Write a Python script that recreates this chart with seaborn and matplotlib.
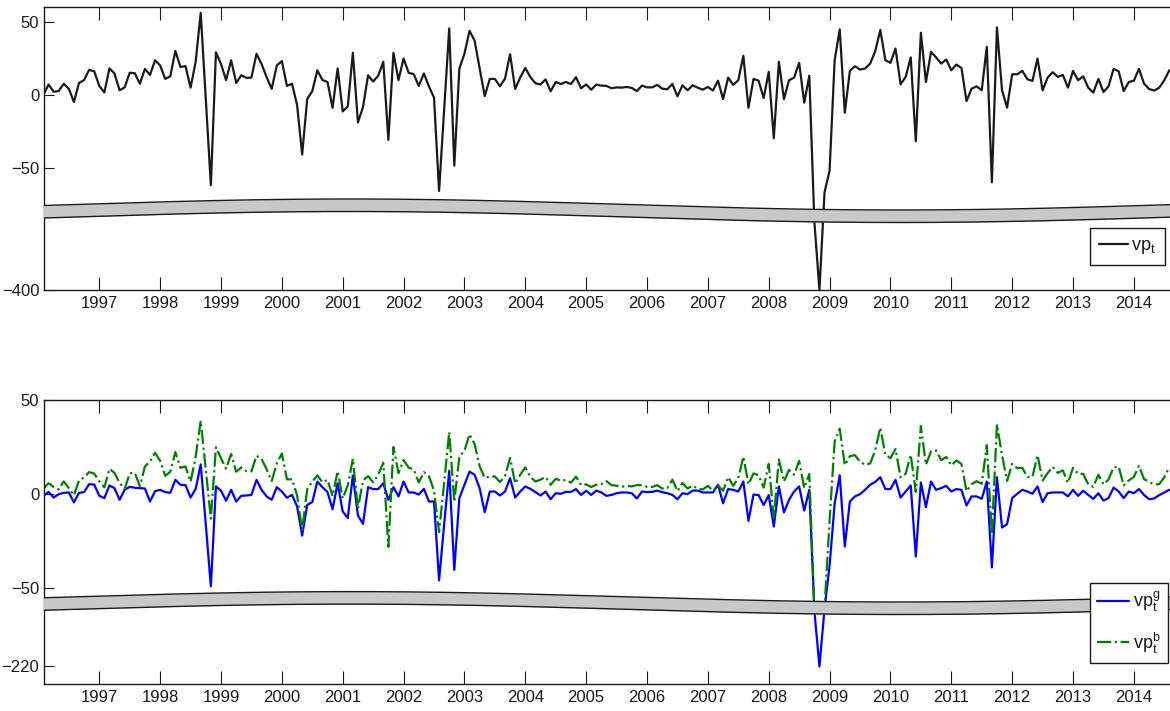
import numpy as np
import matplotlib
matplotlib.use("Agg")
import matplotlib.pyplot as plt
import seaborn as sns
from matplotlib.lines import Line2D
from matplotlib.ticker import NullLocator

# ---------------- data (monthly, Feb 1996 .. Aug 2014) ----------------
vp = [0, 7, 2, 2.5, 7.5, 4, -5, 8, 10, 17,
      16, 6, 1.5, 18, 14.5, 3, 5, 15, 14.7, 7.5,
      17.7, 13.5, 23.6, 20, 10.8, 12.6, 30, 19, 19.5, 4.8,
      22.5, 56, -3, -62, 29, 21, 10, 23.6, 8, 13.3,
      11.5, 11.7, 28, 21, 12, 4, 20, 23, 6, 7.5,
      -7, -41, -3, 2.5, 16.7, 10, 8.7, -9, 18, -11.5,
      -8, 28.7, -19, -8.5, 13.3, 9, 13, 22.5, -31, 28.7,
      10, 24.8, 15, 14, 6, 14.5, 5.7, -2, -66, -10,
      45.4, -48.6, 17.9, 28, 43.8, 37, 18, -1, 10.8, 10.8,
      5.7, 11, 27.7, 3.9, 11.7, 18.3, 12, 7.8, 7, 10.5,
      2.3, 8.7, 7.3, 8.7, 7.3, 12, 4.4, 7, 3.4, 6.9,
      6.2, 6, 4.4, 5, 4.8, 5.3, 4.6, 2.5, 6.2, 5,
      5, 6.7, 4.1, 3.7, 7.3, -1.1, 6.4, 3, 6.4, 4.8,
      3.4, 5.3, 2.8, 9.6, -3, 11.7, 6.7, 9.9, 26.6, -9,
      10.8, 9.6, -2.3, 15.6, -29.8, 22.5, -3, 9.9, 11.7, 21.8,
      -5.5, 13, -130, -400, -67, -52, 23.6, 44.7, -12.4, 16.3,
      19.5, 17.2, 17.9, 21.3, 29.8, 44.3, 23.6, 21.8, 31.6, 7.1,
      12.2, 25.5, -31.9, 42.4, 8.7, 29.4, 25.5, 21.3, 24.1, 16.7,
      20.6, 18.3, -4.4, 4.1, 5.7, 3, 32.8, -60, 46.1, 3,
      -8.9, 14, 14, 16.3, 10.6, 9.4, 24.8, 3, 11.7, 15.4,
      12.2, 13.5, 4.8, 16.3, 9.9, 12.6, 4.8, 1.4, 10.8, 1.8,
      5.7, 17.7, 16, 2.5, 8.7, 9.6, 17.7, 7.6, 3.9, 2.8,
      4.8, 9.9, 16.7]

vpg = [-0.9, 1.2, -1.8, 0, 0.7, 0.9, -4.4, 0.7, 1.1, 5.3,
       5.1, -0.9, -2.1, 4.6, 3.2, -3, 2.3, 3.9, 3.4, 3.2,
       3, -3.9, 1.6, 2.3, 1.1, 0.7, 7.6, 5, 4.8, -1.8,
       2.8, 15.8, -16, -49, 4.1, 1.9, -3.5, 2.3, -3.9, -0.9,
       -0.7, -0.4, 7.6, 2.3, -1.2, -3, 3.7, 1.4, -1.9, -0.4,
       -6.5, -22, -5.7, -4.2, 6.7, 3.7, 1.1, -8, 5.8, -9.2,
       -12.7, 9.9, -11.3, -15.8, 3.7, 2.7, 2.7, 5.8, -3, 3.7,
       -1.2, 6.7, 0.9, 0.9, -0.2, 2.8, -3.9, -3.9, -45.8, -16,
       12.4, -40.2, -2.1, 5, 12, 10.3, 3.2, -9.6, 1.4, 1.4,
       -0.7, 1.4, 8.5, -1.8, 1.4, 4.1, 2.8, 1.1, -0.7, 1.4,
       -2.7, 0.5, 0.2, 1.2, 1.2, 2.7, -0.4, 1.8, -0.4, 1.9,
       0.9, -0.9, -0.4, 0.5, 0.9, 0.9, 0.5, -2.3, 1.4, 1.1,
       1.2, 1.9, 1.1, 0.5, -0.4, -2.7, 0.5, 0, 1.9, 1.9,
       0.9, 0.9, 0.9, 5, -4.8, 2.7, 2.3, 1.4, 6.7, -14.2,
       -0.2, -0.5, -5.8, -0.5, -17.2, 4.1, -9.7, -3, 1.4, 4.1,
       -8.7, 2.3, -70, -221, -65, -38, -5, 10, -27.8, -3.9,
       -1.2, 0, 2.3, 5, 6.5, 9, 2.7, 2.7, 7.6, -1.8,
       1.4, 4.6, -33.1, 6.2, -6.9, 6.7, 2.3, 3.2, 4.4, 1.4,
       2.7, 2.3, -6, -1.2, -1.2, -2.5, 6.7, -38.9, 9, -17.7,
       -15.9, -2.1, 0.2, 2.3, 1.4, 0.2, 4.1, -4.2, 0.5, 0.9,
       0.9, 0.9, -1.2, 2.3, -0.9, 1.8, -0.4, -2.5, 0.5, -3.4,
       -2.1, 3.5, 1.4, -2.1, 1.4, 0.5, 2.7, -0.4, -2.7, -2.3,
       -0.5, 0.9, 2.3]

vpb = [3, 5.8, 3.8, 2.5, 6.8, 3.1, -0.6, 7.3, 8.9, 11.7,
       10.9, 6.9, 3.6, 13.4, 11.3, 6, 2.7, 11.1, 11.3, 4.3,
       14.7, 17.4, 22, 17.7, 9.7, 11.9, 22.4, 14, 14.7, 6.6,
       19.7, 39, 13, -13, 24.9, 19.1, 13.5, 21.3, 11.9, 14.2,
       12.2, 12.1, 20.4, 18.7, 13.2, 7, 16.3, 21.6, 7.9, 7.9,
       -0.5, -19, 2.7, 6.7, 10, 6.3, 7.6, -1, 12.2, -2.3,
       4.7, 18.8, -7.7, 7.3, 9.6, 6.3, 10.3, 16.7, -28, 25,
       11.2, 18.1, 14.1, 13.1, 6.2, 11.7, 9.6, 1.9, -20.2, 6,
       33, -4, 20, 23, 31.8, 26.7, 14.8, 8.6, 9.4, 9.4,
       6.4, 9.6, 19.2, 5.7, 10.3, 14.2, 9.2, 6.7, 7.7, 9.1,
       5, 8.2, 7.1, 7.5, 6.1, 9.3, 4.8, 5.2, 3.8, 5,
       5.3, 6.9, 4.8, 4.5, 3.9, 4.4, 4.1, 4.8, 4.8, 3.9,
       3.8, 4.8, 3, 3.2, 7.7, 1.6, 5.9, 3, 4.5, 2.9,
       2.5, 4.4, 1.9, 4.6, 1.8, 9, 4.4, 8.5, 19.9, 5.2,
       11, 10.1, 3.5, 16.1, -12.6, 18.4, 6.7, 12.9, 10.3, 17.7,
       3.2, 10.7, -65, -65, -62, -14, 28, 34.7, 15.4, 20.2,
       20.7, 17.2, 15.6, 16.3, 23.3, 35.3, 20.9, 19.1, 24, 8.9,
       10.8, 20.9, 1.2, 36.2, 15.6, 22.7, 23.2, 18.1, 19.7, 15.3,
       17.9, 16, 1.6, 5.3, 6.9, 5.5, 26.1, -21.1, 37.1, 20.7,
       7, 16.1, 13.8, 14, 9.2, 9.2, 20.7, 7.2, 11.2, 14.5,
       11.3, 12.6, 6, 14, 10.8, 10.8, 5.2, 3.9, 10.3, 5.2,
       7.8, 14.2, 14.6, 4.6, 7.3, 9.1, 15, 8, 6.6, 5.1,
       5.3, 9, 14.4]

dates = 1996 + np.arange(1, len(vp) + 1) / 12.0

years = list(range(1997, 2015))
top_yticks = [-400, -50, 0, 50]
bot_yticks = [-220, -50, 0, 50]
label_top = r"$\mathregular{vp_t}$"
label_g = r"$\mathregular{vp_t^g}$"
label_b = r"$\mathregular{vp_t^b}$"

# ---------------- style ----------------
sns.set_theme(style="white")
plt.rcParams["font.family"] = ["Liberation Sans", "DejaVu Sans"]
plt.rcParams["mathtext.fontset"] = "custom"
plt.rcParams["mathtext.rm"] = "Liberation Sans"
plt.rcParams["axes.unicode_minus"] = True
plt.rcParams["text.color"] = "k"

W, H = 1170, 711
fig = plt.figure(figsize=(W / 100, H / 100), dpi=100)
fig.patch.set_facecolor("white")

def px_axes(left, top, right, bottom):
    return fig.add_axes([left / W, 1 - bottom / H, (right - left) / W, (bottom - top) / H])

ax1 = px_axes(43.5, 6.5, 1171, 290)
ax2 = px_axes(43.5, 400, 1171, 684)


def broken_scale(B, c):
    def fwd(v):
        v = np.asarray(v, dtype=float)
        return np.where(v >= B, v, B + (v - B) * c)

    def inv(d):
        d = np.asarray(d, dtype=float)
        return np.where(d >= B, d, B + (d - B) / c)

    return fwd, inv


def draw_break(ax, center, amp, thick):
    xf = np.linspace(0, 1, 400)
    top = center + amp * np.cos(2 * np.pi * (xf - 0.272) / 0.9756)
    bot = top - thick
    ax.fill_between(xf, bot, top, transform=ax.transAxes, color="#c8c8c8",
                    lw=0, zorder=4)
    ax.plot(xf, top, transform=ax.transAxes, color="k", lw=1.0, zorder=4.5)
    ax.plot(xf, bot, transform=ax.transAxes, color="k", lw=1.0, zorder=4.5)


def style_axes(ax, yticks):
    ax.set_xlim(dates[0], 2014.61)
    ax.set_xticks(years)
    ax.set_xticklabels([str(y) for y in years])
    ax.set_yticks(yticks)
    ax.set_yticklabels([str(t).replace("-", "\u2212") for t in yticks])
    ax.yaxis.set_minor_locator(NullLocator())
    ax.xaxis.set_minor_locator(NullLocator())
    ax.tick_params(axis="x", direction="in", top=True, bottom=True, length=9.5,
                   width=0.8, color="k", labelcolor="k", labelsize=12, pad=4)
    ax.tick_params(axis="y", direction="in", left=True, right=False, length=7.5,
                   width=0.8, color="k", labelcolor="k", labelsize=12, pad=3)
    for s in ax.spines.values():
        s.set_color("k")
        s.set_linewidth(1.0)
    ax.set_xlabel("")
    ax.set_ylabel("")
    ax.grid(False)


# ---------------- top panel ----------------
sns.lineplot(x=dates, y=vp, ax=ax1, color="k", lw=1.6, estimator=None, sort=False)
ax1.set_yscale("function", functions=broken_scale(-78, 0.1733))
ax1.set_ylim(-400, 60.4)
style_axes(ax1, top_yticks)
draw_break(ax1, 0.3016, 0.0194, 0.0441)
leg1 = ax1.legend([Line2D([], [], color="k", lw=1.6)], [label_top],
                  loc="lower right", bbox_to_anchor=(0.9947, 0.088),
                  frameon=True, fancybox=False, edgecolor="k", framealpha=1,
                  fontsize=13, handlelength=1.6, handletextpad=0.2,
                  borderpad=0.5, borderaxespad=0)
leg1.get_frame().set_linewidth(1.0)
leg1.set_zorder(6)

# ---------------- bottom panel ----------------
sns.lineplot(x=dates, y=vpg, ax=ax2, color="#0000ff", lw=1.6, estimator=None, sort=False)
sns.lineplot(x=dates, y=vpb, ax=ax2, color="#008000", lw=1.6, linestyle="-.",
             estimator=None, sort=False)
ax2.set_yscale("function", functions=broken_scale(-60, 0.1956))
ax2.set_ylim(-268.6, 50)
style_axes(ax2, bot_yticks)
draw_break(ax2, 0.307, 0.0183, 0.044)
leg2 = ax2.legend([Line2D([], [], color="#0000ff", lw=1.6),
                   Line2D([], [], color="#008000", lw=1.6, linestyle="-.")],
                  [label_g, label_b],
                  loc="lower right", bbox_to_anchor=(0.9973, 0.074),
                  frameon=True, fancybox=False, edgecolor="k", framealpha=1,
                  fontsize=13, handlelength=1.8, handletextpad=0.2,
                  borderpad=0.4, labelspacing=0.9, borderaxespad=0)
leg2.get_frame().set_linewidth(1.0)
leg2.set_zorder(6)

fig.savefig("out.png", dpi=100, facecolor="white")
